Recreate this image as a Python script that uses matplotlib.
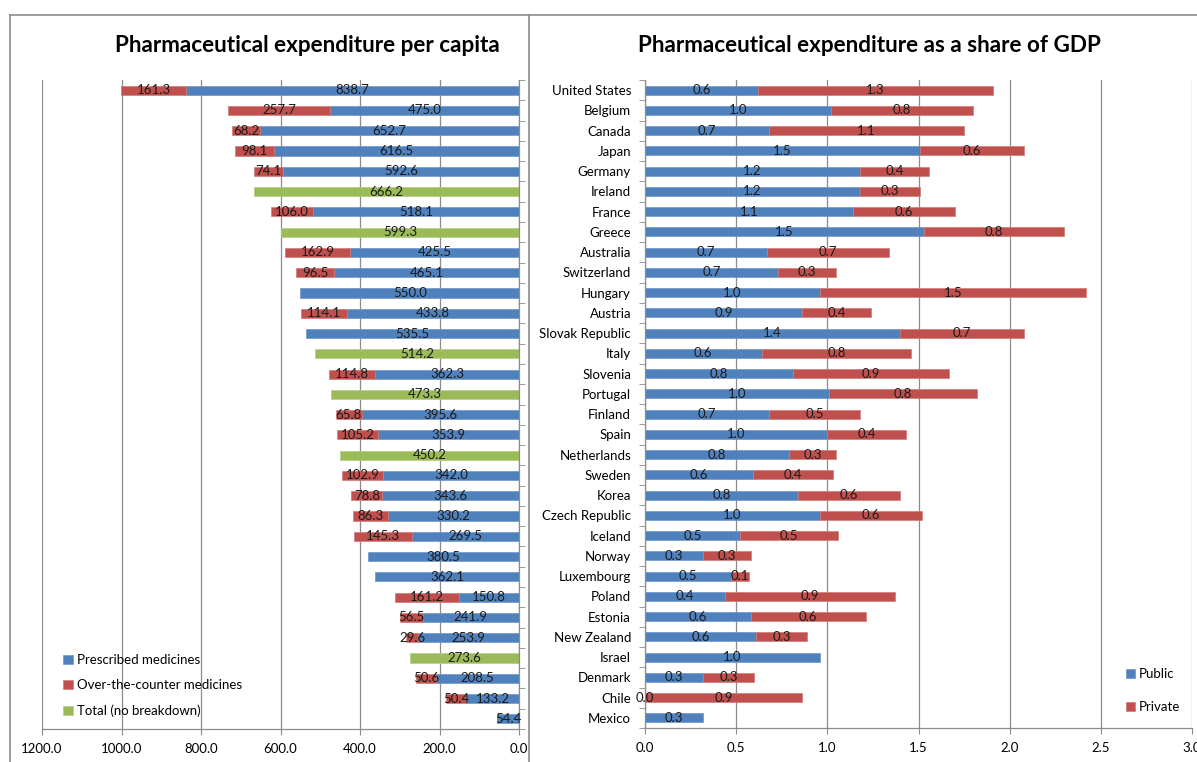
import matplotlib
matplotlib.use("Agg")
import matplotlib.pyplot as plt
from matplotlib.lines import Line2D
import numpy as np

plt.rcParams['font.family'] = ['Lato', 'DejaVu Sans']

countries = ["United States", "Belgium", "Canada", "Japan", "Germany", "Ireland", "France",
             "Greece", "Australia", "Switzerland", "Hungary", "Austria", "Slovak Republic",
             "Italy", "Slovenia", "Portugal", "Finland", "Spain", "Netherlands", "Sweden",
             "Korea", "Czech Republic", "Iceland", "Norway", "Luxembourg", "Poland",
             "Estonia", "New Zealand", "Israel", "Denmark", "Chile", "Mexico"]

# per capita spending (left panel), None = no data
prescribed = [838.7, 475.0, 652.7, 616.5, 592.6, None, 518.1, None, 425.5, 465.1, 550.0,
              433.8, 535.5, None, 362.3, None, 395.6, 353.9, None, 342.0, 343.6, 330.2,
              269.5, 380.5, 362.1, 150.8, 241.9, 253.9, None, 208.5, 133.2, 54.4]
otc = [161.3, 257.7, 68.2, 98.1, 74.1, None, 106.0, None, 162.9, 96.5, None,
       114.1, None, None, 114.8, None, 65.8, 105.2, None, 102.9, 78.8, 86.3,
       145.3, None, None, 161.2, 56.5, 29.6, None, 50.6, 50.4, None]
total = [None, None, None, None, None, 666.2, None, 599.3, None, None, None,
         None, None, 514.2, None, 473.3, None, None, 450.2, None, None, None,
         None, None, None, None, None, None, 273.6, None, None, None]

# share of GDP (right panel)
public = [0.62, 1.02, 0.68, 1.51, 1.18, 1.18, 1.14, 1.53, 0.67, 0.73, 0.96, 0.86, 1.40,
          0.64, 0.81, 1.01, 0.68, 1.00, 0.79, 0.59, 0.84, 0.96, 0.52, 0.32, 0.47, 0.44,
          0.58, 0.61, 0.96, 0.32, 0.0, 0.32]
private = [1.29, 0.78, 1.07, 0.57, 0.38, 0.33, 0.56, 0.77, 0.67, 0.32, 1.46, 0.38, 0.68,
           0.82, 0.86, 0.81, 0.50, 0.43, 0.26, 0.44, 0.56, 0.56, 0.54, 0.26, 0.10, 0.93,
           0.63, 0.28, None, 0.28, 0.86, None]

left_ticks = [0, 200, 400, 600, 800, 1000, 1200]
right_ticks = [0.0, 0.5, 1.0, 1.5, 2.0, 2.5, 3.0]

BLUE = '#4F81BD'
RED = '#C0504D'
GREEN = '#9BBB59'
GRID = '#8c8c8c'
TXT = '#1a1a1a'
H = 0.45
FS = 9.5


def pick(vals, base=None):
    idx, w, left = [], [], []
    for i, v in enumerate(vals):
        if v is None:
            continue
        idx.append(i)
        w.append(v)
        left.append(0 if base is None else base[i])
    return idx, w, left


def style_axis(ax):
    for s in ax.spines.values():
        s.set_color(GRID)
        s.set_linewidth(0.9)
    ax.spines['top'].set_visible(False)
    ax.grid(axis='x', color=GRID, lw=0.9)
    ax.set_axisbelow(True)
    ax.tick_params(axis='x', length=4, color=GRID, labelsize=FS, pad=6)


fig = plt.figure(figsize=(11.97, 7.62), dpi=100)
ax1 = fig.add_axes([42 / 1197, 1 - 729 / 762, 477 / 1197, 649 / 762])
ax2 = fig.add_axes([645 / 1197, 1 - 728 / 762, 547 / 1197, 648 / 762])

n = len(countries)
ypos = np.arange(n)

# ---- left panel ----
i, w, l = pick(prescribed)
b1 = ax1.barh(i, w, left=l, height=H, color=BLUE, edgecolor='#6d95c9', lw=0.5, label='Prescribed medicines')
ax1.bar_label(b1, fmt='%.1f', label_type='center', fontsize=FS, color=TXT)
base = [p if p is not None else 0 for p in prescribed]
i, w, l = pick(otc, base)
b2 = ax1.barh(i, w, left=l, height=H, color=RED, edgecolor='#d07a78', lw=0.5, label='Over-the-counter medicines')
ax1.bar_label(b2, fmt='%.1f', label_type='center', fontsize=FS, color=TXT)
i, w, l = pick(total)
b3 = ax1.barh(i, w, left=l, height=H, color=GREEN, edgecolor='#b3cc84', lw=0.5, label='Total (no breakdown)')
ax1.bar_label(b3, fmt='%.1f', label_type='center', fontsize=FS, color=TXT)

ax1.set_xlim(1200, 0)
ax1.set_ylim(n - 0.5, -0.5)
ax1.set_xticks(left_ticks)
ax1.set_xticklabels(['%.1f' % t for t in left_ticks])
style_axis(ax1)
ax1.spines['left'].set_visible(False)
ax1.yaxis.tick_right()
ax1.set_yticks([])
ax1.set_yticks(np.arange(-0.5, n, 1), minor=True)
ax1.tick_params(axis='y', which='minor', length=4, color=GRID, direction='out')
ax1.legend(loc='lower left', frameon=False, fontsize=FS, handlelength=0.7, handleheight=0.7,
           handletextpad=0.3, labelspacing=1.0, bbox_to_anchor=(0.02, 0.0))

# ---- right panel ----
i, w, l = pick(public)
r1 = ax2.barh(i, w, left=l, height=H, color=BLUE, edgecolor='#6d95c9', lw=0.5, label='Public')
ax2.bar_label(r1, fmt='%.1f', label_type='center', fontsize=FS, color=TXT)
i, w, l = pick(private, public)
r2 = ax2.barh(i, w, left=l, height=H, color=RED, edgecolor='#d07a78', lw=0.5, label='Private')
ax2.bar_label(r2, fmt='%.1f', label_type='center', fontsize=FS, color=TXT)

ax2.set_xlim(0, 3.0)
ax2.set_ylim(n - 0.5, -0.5)
ax2.set_xticks(right_ticks)
ax2.set_xticklabels(['%.1f' % t for t in right_ticks])
style_axis(ax2)
ax2.spines['right'].set_visible(False)
ax2.set_yticks(ypos)
ax2.set_yticklabels(countries, fontsize=FS)
ax2.tick_params(axis='y', which='major', length=0, pad=10)
ax2.set_yticks(np.arange(-0.5, n, 1), minor=True)
ax2.tick_params(axis='y', which='minor', length=4, color=GRID, direction='out')
ax2.legend(loc='lower right', frameon=False, fontsize=FS, handlelength=0.7, handleheight=0.7,
           handletextpad=0.3, labelspacing=1.6, bbox_to_anchor=(1.0, 0.005))

# titles, centred over each chart block as in the original
fig.text(307 / 1197, 1 - 45 / 762, 'Pharmaceutical expenditure per capita',
         fontsize=16.2, fontweight='bold', ha='center', va='center')
fig.text(869 / 1197, 1 - 45 / 762, 'Pharmaceutical expenditure as a share of GDP',
         fontsize=16.2, fontweight='bold', ha='center', va='center')

# frame lines of the original picture
fig.add_artist(Line2D([10 / 1197, 1], [1 - 15 / 762, 1 - 15 / 762], color='#8c8c8c', lw=1.2))
fig.add_artist(Line2D([10 / 1197, 10 / 1197], [0, 1 - 15 / 762], color='#8c8c8c', lw=1.2))
fig.add_artist(Line2D([529 / 1197, 529 / 1197], [0, 1 - 15 / 762], color='#8c8c8c', lw=1.2))

fig.savefig('out.png', dpi=100)
